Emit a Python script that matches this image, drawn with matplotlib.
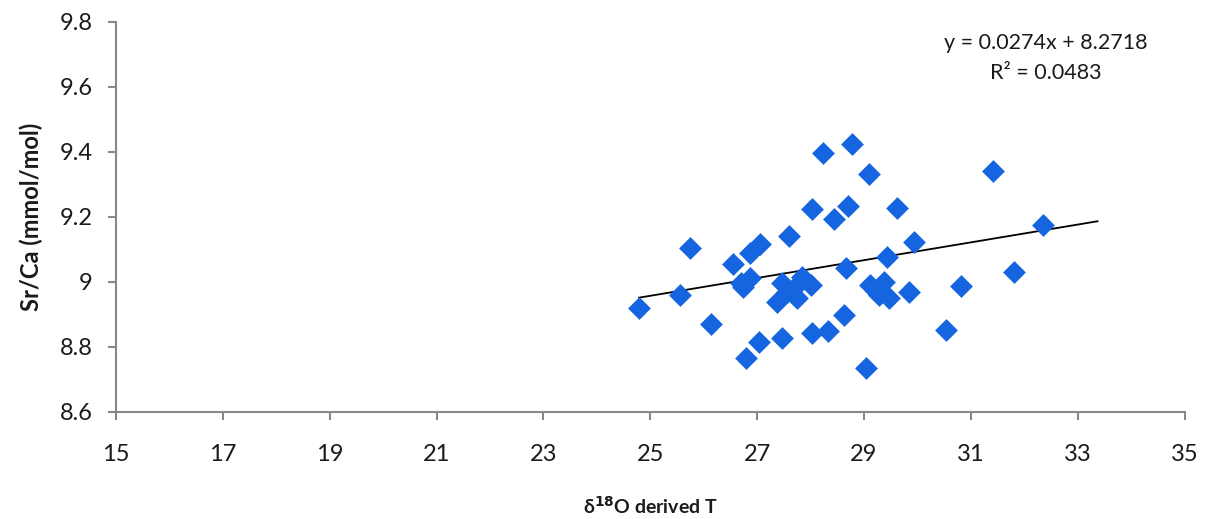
import matplotlib
matplotlib.use("Agg")
import matplotlib.pyplot as plt
import numpy as np

# Data
temp_d18O = [24.79, 25.56, 25.75, 26.14, 26.55, 26.69, 26.74, 26.87, 26.87, 27.05,
             26.80, 27.04, 27.59, 27.46, 27.46, 27.37, 27.56, 27.71, 27.74, 27.84,
             28.00, 28.03, 28.32, 28.44, 28.23, 28.78, 29.09, 28.03, 28.70, 28.67,
             28.62, 29.03, 29.43, 29.12, 29.20, 29.28, 29.37, 29.46, 29.62, 29.93,
             29.84, 30.82, 31.80, 30.54, 31.41, 32.35]
sr_ca = [8.918, 8.958, 9.105, 8.870, 9.055, 8.995, 8.985, 9.010, 9.087, 9.116,
         8.766, 8.814, 9.142, 8.826, 8.995, 8.938, 8.969, 8.985, 8.949, 9.015,
         8.990, 8.841, 8.849, 9.193, 9.395, 9.424, 9.331, 9.223, 9.233, 9.041,
         8.898, 8.735, 9.075, 8.990, 8.975, 8.960, 9.000, 8.950, 9.226, 9.122,
         8.969, 8.987, 9.031, 8.851, 9.341, 9.174]

slope = 0.0274
intercept = 8.2718
r_squared = 0.0483
trend_x_range = [24.79, 33.37]

x_ticks = [15, 17, 19, 21, 23, 25, 27, 29, 31, 33, 35]
y_ticks = [8.6, 8.8, 9.0, 9.2, 9.4, 9.6, 9.8]
y_tick_labels = ["8.6", "8.8", "9", "9.2", "9.4", "9.6", "9.8"]

plt.rcParams['font.family'] = ['Lato', 'DejaVu Sans']

fig = plt.figure(figsize=(12.1, 5.19), dpi=100)
ax = fig.add_axes([0.0959, 0.2067, 0.8831, 0.7513])

ax.scatter(temp_d18O, sr_ca, marker='D', s=135, color='#1565e0', zorder=3, linewidths=0)

tx = np.array(trend_x_range)
ax.plot(tx, slope * tx + intercept, color='black', lw=1.3, zorder=2)

ax.set_xlim(15, 35)
ax.set_ylim(8.6, 9.8)
ax.set_xticks(x_ticks)
ax.set_xticklabels([str(t) for t in x_ticks])
ax.set_yticks(y_ticks)
ax.set_yticklabels(y_tick_labels)

for side in ['top', 'right']:
    ax.spines[side].set_visible(False)
for side in ['left', 'bottom']:
    ax.spines[side].set_color('#888888')
    ax.spines[side].set_linewidth(1.5)

ax.tick_params(axis='both', colors='#888888', length=6, width=1.5, labelsize=17,
               labelcolor='#1a1a1a')
ax.tick_params(axis='x', pad=17)
ax.tick_params(axis='y', pad=11)

ax.set_xlabel(r'δ$^{\mathbf{18}}$O derived T', fontsize=14, fontweight='bold',
              color='#1a1a1a', labelpad=22)
ax.set_ylabel('Sr/Ca (mmol/mol)', fontsize=17, fontweight='bold', color='#1a1a1a',
              labelpad=12)

fig.text(0.864, 0.918, f"y = {slope}x + {intercept}", ha='center', va='center',
         fontsize=15.5, color='#1a1a1a')
fig.text(0.864, 0.860, f"R² = {r_squared}", ha='center', va='center',
         fontsize=15.5, color='#1a1a1a')

fig.savefig('out.png', dpi=100)
